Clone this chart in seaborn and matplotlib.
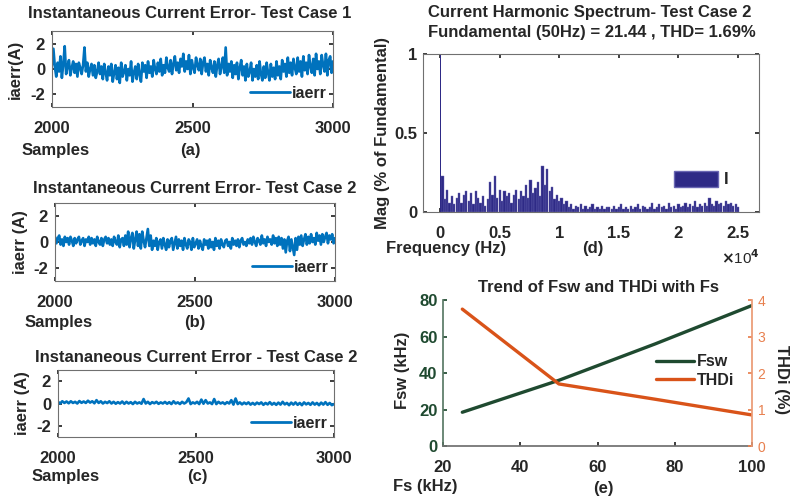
import numpy as np
import pandas as pd
import matplotlib
matplotlib.use('Agg')
import matplotlib.pyplot as plt
from matplotlib.patches import Patch
from matplotlib.lines import Line2D
import seaborn as sns

# current error, test case 1 (samples 2000..3000), 10 values per 50 samples
err_a = [0.3, 1.6, 0.2, -0.6, 0.5, -0.2, 1.0, -0.7, 0.4, 1.8,
         -0.4, 0.2, 0.7, -0.5, 0.1, 0.6, -0.3, 0.4, -0.6, 0.5,
         0.1, -0.4, 0.3, 1.7, -0.2, 0.5, -0.6, 0.0, 0.4, -0.5,
         0.3, -0.7, -0.2, 0.5, -0.4, 0.2, -0.8, 0.4, -0.3, -0.9,
         0.2, -0.5, 0.4, -1.0, -0.3, 0.3, -0.8, 0.1, -1.1, 0.5,
         -0.6, -0.2, 0.3, -0.9, 0.0, -0.5, 0.6, -1.0, -0.3, 0.2,
         -0.8, 0.4, -0.4, -1.0, 0.5, -0.2, 0.3, -0.7, 0.6, -0.3,
         0.2, -0.6, 0.7, 0.0, -0.4, 0.5, -0.2, 0.8, -0.5, 0.3,
         -0.3, 0.9, 0.1, -0.2, 0.7, -0.4, 0.4, 1.0, -0.1, 0.5,
         -0.3, 0.8, 0.2, 1.2, -0.2, 0.6, 0.0, 1.1, -0.4, 0.7,
         0.1, -0.3, 0.9, 0.3, -0.1, 0.8, -0.4, 0.5, 0.9, -0.2,
         0.4, -0.5, 0.7, 0.1, -0.3, 0.6, -0.6, 0.3, 0.8, -0.4,
         0.2, 0.9, -0.3, 1.7, -0.5, 0.4, -0.2, 0.6, -0.7, 0.3,
         -0.4, 0.5, -0.8, 0.1, 0.7, -0.5, 0.2, -0.9, 0.4, -0.6,
         -0.2, 0.5, -0.9, 0.0, -0.6, 0.3, -0.8, 0.6, -0.4, -0.9,
         0.2, -0.7, 0.5, -0.3, -0.9, 0.4, -0.6, 0.1, -0.8, 0.6,
         -0.5, 0.2, -0.8, 0.7, -0.2, 0.4, -0.6, 0.9, -0.3, 0.5,
         -0.5, 0.8, 0.1, -0.4, 0.9, -0.2, 0.6, -0.6, 1.0, -0.1,
         0.5, -0.4, 1.1, 0.2, -0.3, 0.8, -0.5, 1.2, 0.0, 0.6,
         -0.4, 1.1, 0.3, -0.2, 1.2, -0.5, 0.7, 1.0, -0.3, 0.6]

# current error, test case 2
err_b = [0.4, -0.1, 0.3, 0.5, -0.2, 0.2, -0.3, 0.4, 0.0, 0.3,
         -0.2, 0.4, 0.1, -0.3, 0.3, -0.1, 0.2, 0.4, -0.2, 0.1,
         0.3, -0.3, 0.2, 0.0, 0.4, -0.2, 0.3, -0.1, 0.2, -0.3,
         0.4, 0.0, -0.2, 0.3, -0.3, 0.2, 0.4, -0.1, 0.3, -0.2,
         0.2, -0.3, 0.4, 0.0, -0.2, 0.5, -0.4, 0.2, 0.3, -0.3,
         0.5, -0.2, 0.8, -0.4, 0.3, 0.7, -0.5, 0.2, 0.8, -0.3,
         0.6, -0.5, 0.8, 0.1, -0.4, 0.3, 1.0, -0.3, 0.5, -0.6,
         0.1, -0.3, 0.3, -0.6, 0.0, 0.2, -0.5, 0.3, -0.2, -0.6,
         0.2, -0.4, 0.1, 0.3, -0.6, -0.1, 0.4, -0.5, 0.2, -0.3,
         0.1, -0.6, 0.3, -0.2, -0.5, 0.2, 0.0, -0.6, 0.3, -0.4,
         -0.1, 0.2, -0.5, 0.1, -0.3, -0.6, 0.2, -0.2, 0.1, -0.5,
         0.2, -0.4, 0.0, -0.6, 0.3, -0.3, 0.1, -0.5, 0.2, -0.2,
         -0.4, 0.1, 0.2, -0.3, 0.0, -0.5, 0.3, -0.2, 0.1, -0.3,
         0.2, -0.4, 0.1, 0.3, -0.2, 0.0, -0.3, 0.2, -0.1, 0.3,
         -0.2, 0.4, 0.0, -0.3, 0.3, 0.1, -0.2, 0.5, -0.1, 0.2,
         -0.3, 0.4, 0.0, 0.2, -0.2, 0.5, -0.1, 0.3, -0.3, 0.4,
         -0.2, 0.3, -0.5, 0.2, -0.8, 0.1, 0.4, -0.7, 0.2, -0.4,
         -1.0, 0.3, -0.6, 0.4, -0.2, 0.5, -0.3, 0.2, 0.6, -0.2,
         0.4, -0.1, 0.6, 0.0, 0.3, -0.2, 0.7, 0.1, 0.5, -0.2,
         0.6, 0.0, 0.4, 0.7, -0.1, 0.5, 0.2, 0.6, -0.1, 0.3]

# current error, test case 2 (third controller)
err_c = [0.15, 0.0, 0.2, 0.05, 0.18, 0.02, 0.2, 0.05, 0.15, 0.0, 0.22, 0.06, 0.18,
         0.05, 0.25, 0.08, 0.2, 0.02, 0.3, 0.05, 0.2, 0.0, 0.15, 0.04, 0.2, 0.0,
         0.15, -0.02, 0.12, 0.0, 0.18, -0.03, 0.15, 0.0, 0.12, -0.05, 0.15, 0.0, 0.1,
         -0.02, 0.4, 0.0, 0.15, -0.05, 0.12, 0.02, 0.15, -0.03, 0.1, 0.0, 0.14, -0.02,
         0.12, -0.05, 0.2, 0.0, 0.1, -0.05, 0.15, 0.0, 0.12, 0.45, -0.05, 0.1, 0.0,
         0.15, -0.05, 0.35, -0.02, 0.3, 0.0, 0.1, -0.05, 0.4, -0.05, 0.15, 0.0, 0.1,
         -0.05, 0.12, 0.0, 0.3, -0.1, 0.45, -0.05, 0.1, -0.08, 0.08, -0.05, 0.1, -0.1,
         0.05, -0.1, 0.08, -0.05, 0.1, -0.12, 0.05, -0.08, 0.12, -0.1, 0.05, -0.12, 0.08,
         -0.1, 0.15, -0.08, 0.05, -0.15, 0.08, -0.1, 0.1, -0.12, 0.05, -0.15, 0.1, -0.08,
         0.05, -0.12, 0.1, -0.1, 0.05, -0.15, 0.08, -0.1, 0.12, -0.12, 0.05, -0.15, -0.05]

# harmonic spectrum (per unit of fundamental), bins of 200 Hz from 200 Hz
fund_freq = 50
fund_mag = 1.0
harm_mag = [0.23, 0.08, 0.14, 0.06, 0.10, 0.05, 0.09, 0.12, 0.06, 0.11,
            0.13, 0.07, 0.12, 0.05, 0.13, 0.09, 0.06, 0.10, 0.04, 0.08,
            0.19, 0.11, 0.23, 0.09, 0.14, 0.07, 0.13, 0.10, 0.12, 0.06,
            0.11, 0.14, 0.08, 0.13, 0.10, 0.17, 0.09, 0.20, 0.12, 0.15,
            0.19, 0.10, 0.29, 0.17, 0.27, 0.13, 0.16, 0.08, 0.11, 0.07,
            0.09, 0.05, 0.07, 0.03, 0.05, 0.02, 0.04, 0.03, 0.05, 0.02,
            0.04, 0.02, 0.03, 0.05, 0.02, 0.03, 0.02, 0.04, 0.02, 0.03,
            0.03, 0.02, 0.04, 0.02, 0.03, 0.05, 0.02, 0.03, 0.02, 0.04,
            0.02, 0.03, 0.05, 0.02, 0.04, 0.03, 0.02, 0.03, 0.06, 0.02,
            0.03, 0.05, 0.03, 0.04, 0.02, 0.06, 0.03, 0.04, 0.02, 0.05,
            0.03, 0.04, 0.06, 0.03, 0.05, 0.04, 0.07, 0.03, 0.05, 0.04,
            0.06, 0.04, 0.09, 0.05, 0.04, 0.07, 0.05, 0.06, 0.04, 0.07,
            0.05, 0.06, 0.04, 0.05, 0.03]
harm_freq = np.linspace(200, 25000, len(harm_mag))

# trend with sampling frequency
fs_khz = [25, 50, 75, 100]
fsw_khz = [18.5, 36, 56, 77]
thdi = [3.75, 1.7, 1.28, 0.85]

blue = '#0072BD'
navy = '#2e2a86'
green = '#1f4a30'
orange = '#d95319'

sns.set_theme(style='ticks')
plt.rcParams['font.family'] = ['Liberation Sans', 'DejaVu Sans']
plt.rcParams['font.weight'] = 'bold'
plt.rcParams['axes.edgecolor'] = '#707070'
plt.rcParams['axes.unicode_minus'] = False

FS = 12

fig = plt.figure(figsize=(7.92, 4.98), dpi=100)


def rect(l, t, r, b):
    return [l / 792, 1 - b / 498, (r - l) / 792, (b - t) / 498]


def ftxt(x, y, s, **kw):
    kw.setdefault('fontsize', FS)
    kw.setdefault('fontweight', 'bold')
    kw.setdefault('va', 'center')
    fig.text(x / 792, 1 - y / 498, s, **kw)


def err_panel(box, vals, ylab, ylab_x, lw=1.9):
    ax = fig.add_axes(rect(*box))
    df = pd.DataFrame({'sample': np.linspace(2000, 3000, len(vals)), 'err': vals})
    sns.lineplot(data=df, x='sample', y='err', ax=ax, color=blue, lw=lw)
    ax.set_xlim(2000, 3000)
    ax.set_ylim(-3, 3)
    ax.set_xticks([2000, 2500, 3000])
    ax.set_yticks([-2, 0, 2])
    ax.set_xlabel('')
    ax.set_ylabel('')
    ax.tick_params(direction='in', top=True, right=True, length=3, labelsize=FS)
    ax.tick_params(axis='x', pad=10)
    ax.tick_params(axis='y', pad=5)
    for lab in ax.get_xticklabels() + ax.get_yticklabels():
        lab.set_fontweight('bold')
    for sp in ax.spines.values():
        sp.set_visible(True)
        sp.set_linewidth(0.8)
    ax.legend([Line2D([], [], color=blue, lw=2)], ['iaerr'], loc='lower right',
              frameon=False, handlelength=2.5, fontsize=11.5, borderaxespad=0.0,
              handletextpad=0.1)
    ftxt(ylab_x, (box[1] + box[3]) / 2, ylab, rotation=90, ha='center')
    return ax


err_panel((52, 31, 333, 107), err_a, 'iaerr(A)', 15)
ftxt(190, 13, 'Instantaneous Current Error- Test Case 1', ha='center')
ftxt(22, 150, 'Samples')
ftxt(190, 150, '(a)', ha='center')

err_panel((55, 203, 335, 281), err_b, 'iaerr (A)', 21)
ftxt(195, 188, 'Instantaneous Current Error- Test Case 2', ha='center')
ftxt(25, 323, 'Samples')
ftxt(195, 323, '(b)', ha='center')

err_panel((58, 370, 334, 437), err_c, 'iaerr (A)', 22, lw=1.9)
ftxt(196, 357, 'Instananeous Current Error - Test Case 2', ha='center')
ftxt(32, 476, 'Samples')
ftxt(197, 476, '(c)', ha='center')

# harmonic spectrum
axd = fig.add_axes(rect(423, 54, 759, 212))
axd.bar(harm_freq, harm_mag, width=190, color=navy, edgecolor='#6a67b3', linewidth=0.3)
axd.bar([fund_freq], [fund_mag], width=60, color=navy, linewidth=0)
axd.set_xlim(-1430, 26760)
axd.set_ylim(0, 1)
axd.set_xticks([0, 5000, 10000, 15000, 20000, 25000])
axd.set_xticklabels(['0', '0.5', '1', '1.5', '2', '2.5'])
axd.set_yticks([0, 0.5, 1])
axd.set_yticklabels(['0', '0.5', '1'])
axd.tick_params(direction='in', top=True, right=True, length=3, labelsize=FS)
axd.tick_params(axis='x', pad=10)
axd.tick_params(axis='y', pad=4)
for lab in axd.get_xticklabels() + axd.get_yticklabels():
    lab.set_fontweight('bold')
for sp in axd.spines.values():
    sp.set_visible(True)
    sp.set_linewidth(0.8)
axd.legend([Patch(facecolor=navy, edgecolor='#6a67b3')], ['I'], loc='center right',
           bbox_to_anchor=(0.955, 0.209), frameon=False, handlelength=2.6,
           handleheight=1.1, fontsize=FS, handletextpad=0.4)
ftxt(590, 13, 'Current Harmonic Spectrum- Test Case 2', ha='center')
ftxt(592, 33, 'Fundamental (50Hz) = 21.44 , THD= 1.69%', ha='center')
ftxt(383, 133, 'Mag (% of Fundamental)', rotation=90, ha='center')
ftxt(386, 249, 'Frequency (Hz)')
ftxt(593, 249, '(d)', ha='center')
ftxt(721, 258, r'$\times$10$^4$', fontweight='normal', fontsize=11)

# trend of Fsw and THDi
axe = fig.add_axes(rect(443, 300, 752, 446))
axe2 = axe.twinx()
trend = pd.DataFrame({'fs': fs_khz, 'fsw': fsw_khz, 'thdi': thdi})
sns.lineplot(data=trend, x='fs', y='fsw', ax=axe, color=green, lw=2.4)
sns.lineplot(data=trend, x='fs', y='thdi', ax=axe2, color=orange, lw=2.4)
axe.set_xlim(20, 100)
axe.set_ylim(0, 80)
axe2.set_ylim(0, 4)
axe.set_xticks([20, 40, 60, 80, 100])
axe.set_yticks([0, 20, 40, 60, 80])
axe2.set_yticks([0, 1, 2, 3, 4])
for a in (axe, axe2):
    a.set_xlabel('')
    a.set_ylabel('')
axe.tick_params(direction='in', length=3, labelsize=FS, top=False)
axe.tick_params(axis='x', pad=10)
axe.tick_params(axis='y', pad=4, colors=green)
for lab in axe.get_xticklabels() + axe.get_yticklabels():
    lab.set_fontweight('bold')
axe2.tick_params(direction='in', length=3, labelsize=10, colors='#e8804f', pad=4)
for lab in axe2.get_yticklabels():
    lab.set_fontweight('normal')
axe.spines['left'].set_color('#5a7a66')
axe.spines['bottom'].set_color('#707070')
axe.spines['top'].set_visible(False)
axe.spines['right'].set_visible(False)
axe2.spines['top'].set_visible(False)
axe2.spines['left'].set_visible(False)
axe2.spines['bottom'].set_visible(False)
axe2.spines['right'].set_color('#eb9a74')
axe2.legend([Line2D([], [], color=green, lw=2.4), Line2D([], [], color=orange, lw=2.4)],
            ['Fsw', 'THDi'], loc='center right', bbox_to_anchor=(0.99, 0.514),
            frameon=False, handlelength=2.4, fontsize=11.5, handletextpad=0.2,
            labelspacing=0.2)
ftxt(598, 287, 'Trend of Fsw and THDi with Fs', ha='center')
ftxt(403, 370, 'Fsw (kHz)', rotation=90, ha='center')
ftxt(782, 380, 'THDi (%)', rotation=270, ha='center')
ftxt(393, 486, 'Fs (kHz)')
ftxt(603, 488, '(e)', ha='center')

fig.savefig('out.png', dpi=100)
